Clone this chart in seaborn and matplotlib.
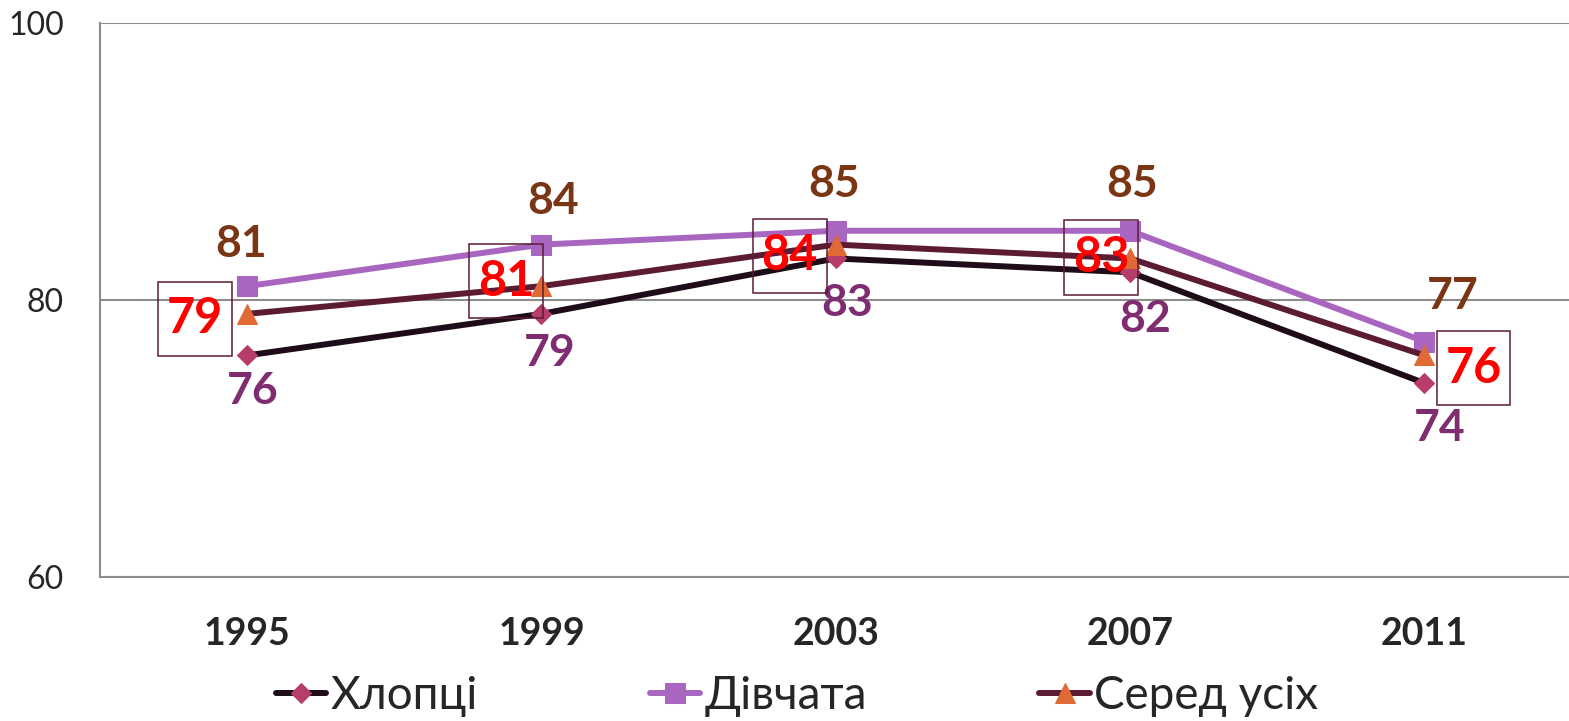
import numpy as np
import pandas as pd
import seaborn as sns
import matplotlib.pyplot as plt
from matplotlib.path import Path

# дані з графіка
years = ["1995", "1999", "2003", "2007", "2011"]
boys = [76, 79, 83, 82, 74]
girls = [81, 84, 85, 85, 77]
overall = [79, 81, 84, 83, 76]
names = ["Хлопці", "Дівчата", "Серед усіх"]

sns.set_style("white")
plt.rcParams["font.family"] = ["Lato", "DejaVu Sans"]


def tall_box(x0, y0, width, height, mutation_size):
    # рамка з більшим вертикальним відступом, як в Excel
    px = 0.18 * mutation_size
    py = 0.30 * mutation_size
    x0, y0 = x0 - px, y0 - py
    x1, y1 = x0 + width + 2 * px, y0 + height + 2 * py
    return Path([(x0, y0), (x1, y0), (x1, y1), (x0, y1), (x0, y0)],
                closed=True)


fig = plt.figure(figsize=(15.69, 7.21), dpi=100)
ax = fig.add_axes([0.0637, 0.1997, 0.938, 0.7684])

x = np.arange(len(years))
df = pd.DataFrame({"x": x, names[0]: boys, names[1]: girls, names[2]: overall})

styles = {
    names[0]: dict(color="#1e0d18", marker="D", markersize=10,
                   markerfacecolor="#b73d6b", markeredgecolor="#b73d6b"),
    names[1]: dict(color="#a966c0", marker="s", markersize=14,
                   markerfacecolor="#a966c0", markeredgecolor="#a966c0"),
    names[2]: dict(color="#5b1b33", marker="^", markersize=14,
                   markerfacecolor="#e06a36", markeredgecolor="#e06a36"),
}
for name in names:
    sns.lineplot(data=df, x="x", y=name, ax=ax, linewidth=4.3, label=name,
                 **styles[name])

# підписи значень (зсуви в пікселях)
girls_off = [(-6, 42), (12, 44), (-2, 47), (2, 47), (28, 46)]
boys_off = [(6, -36), (8, -39), (11, -45), (15, -47), (15, -45)]
overall_off = [(-52, -5), (-35, 5), (-46, -11), (-29, 1), (49, -13)]

for i in range(len(years)):
    ax.annotate(str(girls[i]), (x[i], girls[i]), xytext=girls_off[i],
                textcoords="offset pixels", ha="center", va="center",
                fontsize=32, fontweight="bold", color="#7a3614")
    ax.annotate(str(boys[i]), (x[i], boys[i]), xytext=boys_off[i],
                textcoords="offset pixels", ha="center", va="center",
                fontsize=32, fontweight="bold", color="#7f2c70")
    ax.annotate(str(overall[i]), (x[i], overall[i]), xytext=overall_off[i],
                textcoords="offset pixels", ha="center", va="center",
                fontsize=35, fontweight="bold", color="#ff0000",
                bbox=dict(boxstyle=tall_box, facecolor="none",
                          edgecolor="#5b1b33", linewidth=1.1))

grey = "#8c8c8c"
ax.set_ylim(60, 100)
ax.set_yticks([60, 80, 100])
ax.yaxis.grid(True, color=grey, linewidth=1.5)
ax.set_xlim(-0.5, len(years) - 0.5)
ax.set_xticks(np.arange(len(years) + 1) - 0.5)
ax.set_xticklabels([])
ax.set_xticks(x, minor=True)
ax.set_xticklabels(years, minor=True, fontsize=27, fontweight="bold")
ax.tick_params(axis="x", which="major", direction="out", length=7,
               width=1.5, color=grey)
ax.tick_params(axis="x", which="minor", length=0, pad=29)
ax.tick_params(axis="y", direction="out", length=7, width=1.5, color=grey,
               labelsize=23, pad=19)
ax.set_xlabel("")
ax.set_ylabel("")
for side in ["top", "right"]:
    ax.spines[side].set_visible(False)
for side in ["left", "bottom"]:
    ax.spines[side].set_color(grey)
    ax.spines[side].set_linewidth(1.5)

handles, labels = ax.get_legend_handles_labels()
ax.get_legend().remove()
fig.legend(handles, labels, loc="center", bbox_to_anchor=(0.508, 0.035),
           ncol=3, frameon=False, fontsize=33, handlelength=1.1,
           handletextpad=0.1, columnspacing=3.75)

fig.savefig("out.png", dpi=100)
